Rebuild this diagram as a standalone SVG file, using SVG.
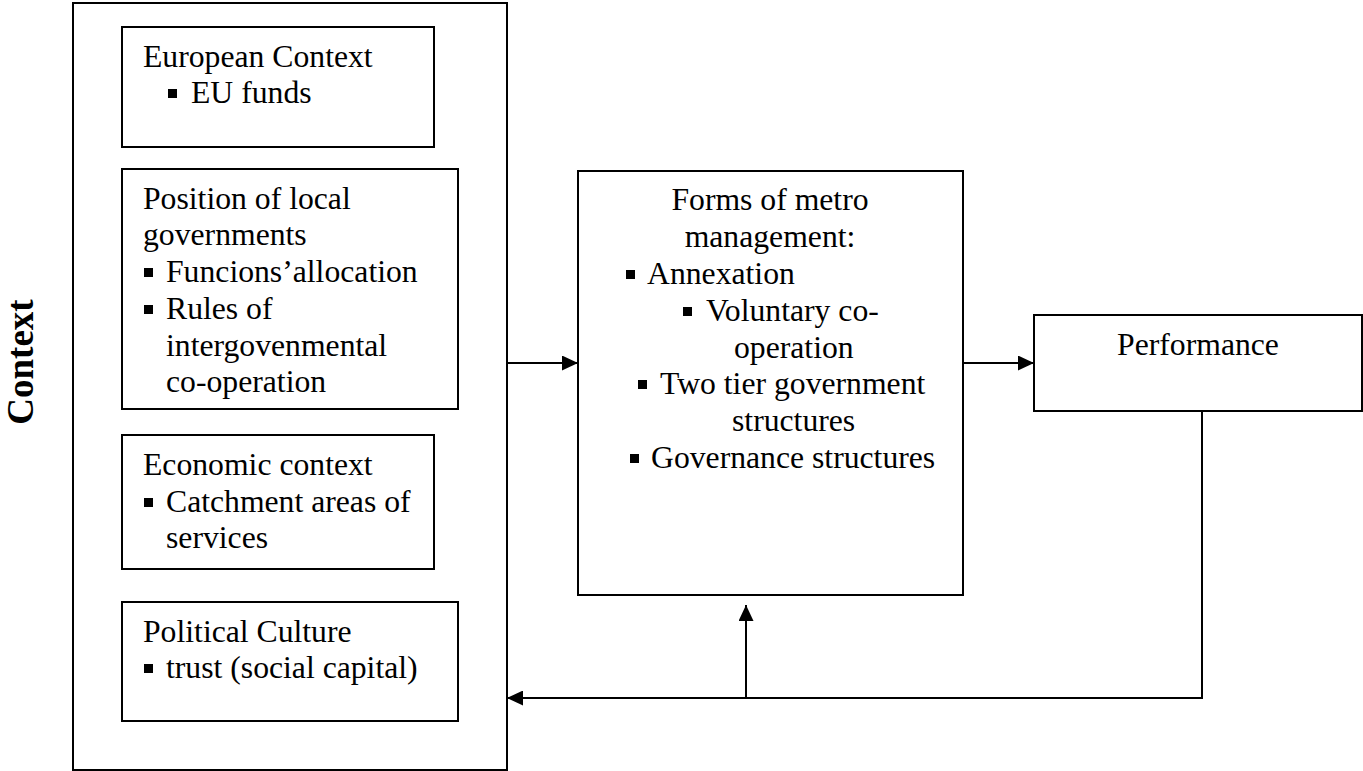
<svg xmlns="http://www.w3.org/2000/svg" width="1363" height="771" viewBox="0 0 1363 771">
<style>
.box{fill:none;stroke:#000;stroke-width:2}
.t{font-family:"Liberation Serif","Times New Roman",serif;font-size:31.7px;fill:#000}
.c{text-anchor:middle}
.b{fill:#000}
.con{fill:none;stroke:#000;stroke-width:2}
</style>
<defs>
<marker id="ah" markerUnits="userSpaceOnUse" markerWidth="17" markerHeight="15" refX="16" refY="7.5" orient="auto">
<path d="M0,0 L16,7.5 L0,15 Z" fill="#000"/>
</marker>
</defs>
<rect width="1363" height="771" fill="#fff"/>
<g id="context-label">
<text class="t" transform="translate(33,362) rotate(-90)" text-anchor="middle" style="font-weight:bold;font-size:37px">Context</text>
</g>
<g id="context">
<rect class="box" x="73" y="3" width="434" height="767"/>
</g>
<g id="european">
<rect class="box" x="122" y="27" width="312" height="120"/>
<text class="t" x="143" y="67">European Context</text>
<rect class="b" x="168" y="89" width="9" height="9"/>
<text class="t" x="191" y="103">EU funds</text>
</g>
<g id="position">
<rect class="box" x="122" y="169" width="336" height="240"/>
<text class="t" x="143" y="209">Position of local</text>
<text class="t" x="143" y="245">governments</text>
<rect class="b" x="144" y="268" width="9" height="9"/>
<text class="t" x="166" y="282">Funcions’allocation</text>
<rect class="b" x="144" y="305" width="9" height="9"/>
<text class="t" x="166" y="319">Rules of</text>
<text class="t" x="166" y="356">intergovenmental</text>
<text class="t" x="166" y="392">co-operation</text>
</g>
<g id="economic">
<rect class="box" x="122" y="435" width="312" height="134"/>
<text class="t" x="143" y="475">Economic context</text>
<rect class="b" x="144" y="498" width="9" height="9"/>
<text class="t" x="166" y="512">Catchment areas of</text>
<text class="t" x="166" y="548">services</text>
</g>
<g id="political">
<rect class="box" x="122" y="602" width="336" height="119"/>
<text class="t" x="143" y="642">Political Culture</text>
<rect class="b" x="144" y="664" width="9" height="9"/>
<text class="t" x="166" y="678">trust (social capital)</text>
</g>
<g id="forms">
<rect class="box" x="578" y="171" width="385" height="424"/>
<text class="t c" x="770" y="210">Forms of metro</text>
<text class="t c" x="770" y="247">management:</text>
<rect class="b" x="626" y="270" width="9" height="9"/>
<text class="t" x="647" y="284">Annexation</text>
<rect class="b" x="683" y="307" width="9" height="9"/>
<text class="t" x="706" y="321">Voluntary co-</text>
<text class="t" x="734" y="358">operation</text>
<rect class="b" x="638" y="380" width="9" height="9"/>
<text class="t" x="660" y="394">Two tier government</text>
<text class="t" x="732" y="431">structures</text>
<rect class="b" x="630" y="454" width="9" height="9"/>
<text class="t" x="651" y="468">Governance structures</text>
</g>
<g id="performance">
<rect class="box" x="1034" y="315" width="328" height="96"/>
<text class="t c" x="1198" y="355">Performance</text>
</g>
<g id="connectors">
<path class="con" d="M507,363 L578,363" marker-end="url(#ah)"/>
<path class="con" d="M963,363 L1034,363" marker-end="url(#ah)"/>
<path class="con" d="M1202,411 L1202,698 L507,698" marker-end="url(#ah)"/>
<path class="con" d="M746,698 L746,605" marker-end="url(#ah)"/>
</g>
</svg>
